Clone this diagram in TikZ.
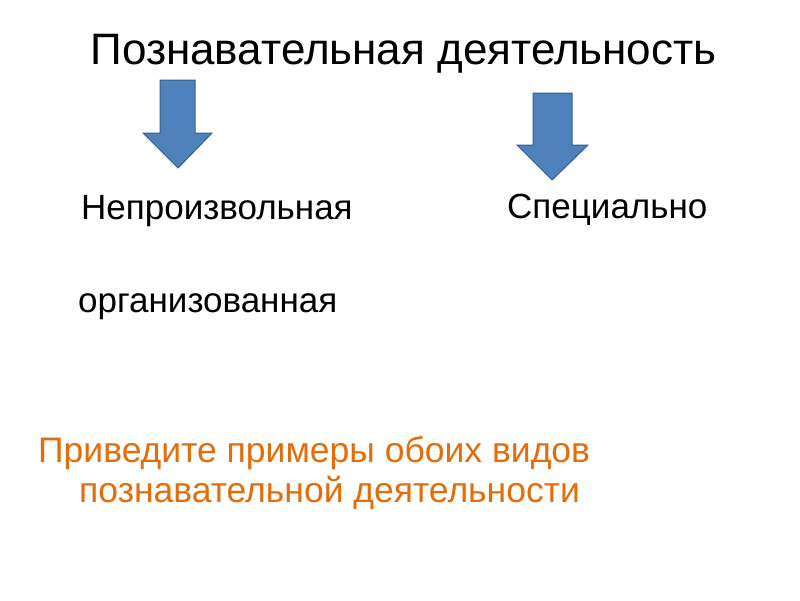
\documentclass[tikz,border=0pt]{standalone}
\usepackage{fontspec}
\setmainfont{Liberation Sans}
\definecolor{arrowfill}{HTML}{4F81BD}
\definecolor{arrowline}{HTML}{385D8A}
\definecolor{orangetxt}{HTML}{E46C0A}
\begin{document}
\begin{tikzpicture}[x=1pt,y=-1pt,
  blockarrow/.style={fill=arrowfill,draw=arrowline,line width=1pt,line join=miter},
  txt/.style={inner sep=0pt,anchor=base west,text=black,font=\fontsize{35}{40}\selectfont},
  qtxt/.style={inner sep=0pt,anchor=base west,text=orangetxt,font=\fontsize{35.5}{40}\selectfont}]
\useasboundingbox (0,0) rectangle (800,600);
\node[inner sep=0pt,anchor=base] (title) at (403.5,64) {\fontsize{44}{50}\selectfont Познавательная деятельность};
\draw[blockarrow] (160,80) -- (195,80) -- (195,133) -- (212,133) -- (178,168) -- (143,133) -- (160,133) -- cycle;
\draw[blockarrow] (533,93) -- (572,93) -- (572,145) -- (588,145) -- (552,180) -- (517,145) -- (533,145) -- cycle;
\node[txt] (a) at (81,219) {Непроизвольная};
\node[txt] (b) at (507,218) {Специально};
\node[txt] (c) at (78,312) {организованная};
\node[qtxt] (q1) at (38,462) {Приведите примеры обоих видов};
\node[qtxt] (q2) at (79,502) {познавательной деятельности};
\end{tikzpicture}
\end{document}
